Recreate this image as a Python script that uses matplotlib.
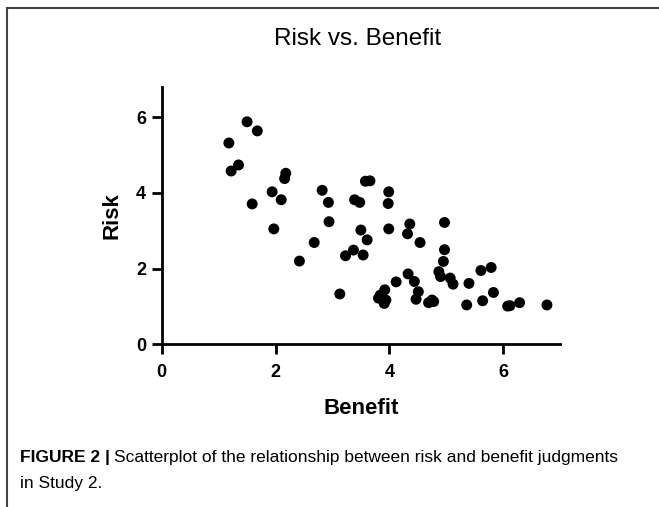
import matplotlib
matplotlib.use('Agg')
import matplotlib.pyplot as plt
from matplotlib.lines import Line2D

plt.rcParams['font.family'] = ['Liberation Sans', 'DejaVu Sans']

# Benefit (x) and Risk (y) judgments
benefit = [1.50, 1.68, 1.18, 1.35, 1.22, 2.18, 2.16, 1.59, 1.94, 2.10,
           1.97, 2.82, 2.93, 2.94, 2.68, 2.42, 3.13, 3.23, 3.37, 3.54,
           3.50, 3.39, 3.48, 3.58, 3.66, 3.99, 3.98, 3.99, 3.61, 4.36,
           4.32, 4.54, 4.97, 4.97, 4.95, 4.87, 4.90, 5.07, 5.12, 4.33,
           4.44, 4.12, 4.51, 4.47, 3.92, 3.84, 3.81, 3.94, 3.91, 4.75,
           4.69, 4.78, 5.40, 5.36, 5.61, 5.79, 5.83, 5.64, 6.08, 6.12,
           6.29, 6.77]
risk = [5.88, 5.64, 5.32, 4.74, 4.58, 4.52, 4.38, 3.71, 4.03, 3.82,
        3.05, 4.07, 3.75, 3.24, 2.69, 2.20, 1.33, 2.34, 2.49, 2.36,
        3.02, 3.82, 3.75, 4.31, 4.32, 4.03, 3.72, 3.05, 2.76, 3.18,
        2.92, 2.69, 3.22, 2.50, 2.19, 1.92, 1.79, 1.75, 1.59, 1.86,
        1.66, 1.65, 1.39, 1.19, 1.44, 1.30, 1.22, 1.17, 1.08, 1.17,
        1.10, 1.13, 1.61, 1.04, 1.95, 2.03, 1.37, 1.15, 1.01, 1.02,
        1.10, 1.04]

x_ticks = [0, 2, 4, 6]
y_ticks = [0, 2, 4, 6]

W, H = 659, 507
fig = plt.figure(figsize=(W / 100, H / 100), dpi=100)
ax = fig.add_axes([0.2454, 0.3209, 0.6044, 0.5075])

ax.scatter(benefit, risk, s=62, color='black', edgecolors='none', zorder=3,
           clip_on=False)

ax.set_xlim(0, 7)
ax.set_ylim(0, 6.8)
ax.set_xticks(x_ticks)
ax.set_yticks(y_ticks)
for s in ['top', 'right']:
    ax.spines[s].set_visible(False)
for s in ['left', 'bottom']:
    ax.spines[s].set_linewidth(2)
ax.tick_params(width=2, length=7.2, labelsize=13)
ax.tick_params(axis='x', pad=7)
ax.tick_params(axis='y', pad=4)
for lab in ax.get_xticklabels() + ax.get_yticklabels():
    lab.set_fontweight('bold')

ax.set_xlabel('Benefit', fontsize=16, fontweight='bold', labelpad=12)
ax.set_ylabel('Risk', fontsize=16, fontweight='bold', labelpad=10)
fig.text(358 / W, 1 - 45 / H, 'Risk vs. Benefit', fontsize=17.5,
         ha='center', va='baseline')

# frame around the figure panel (top and left only)
fig.add_artist(Line2D([7 / W, 1], [1 - 8 / H, 1 - 8 / H],
                      color='#444444', lw=1.5))
fig.add_artist(Line2D([7 / W, 7 / W], [0, 1 - 8 / H],
                      color='#444444', lw=1.5))

# caption
cap_size = 12.5
bold = fig.text(20 / W, 1 - 462 / H, 'FIGURE 2 |', fontsize=cap_size,
                fontweight='bold', va='baseline')
fig.canvas.draw()
bb = bold.get_window_extent()
fig.text((bb.x1 + 4) / W, 1 - 462 / H,
         'Scatterplot of the relationship between risk and benefit judgments',
         fontsize=cap_size, va='baseline')
fig.text(20 / W, 1 - 488 / H, 'in Study 2.', fontsize=cap_size, va='baseline')

fig.savefig('out.png', dpi=100)
